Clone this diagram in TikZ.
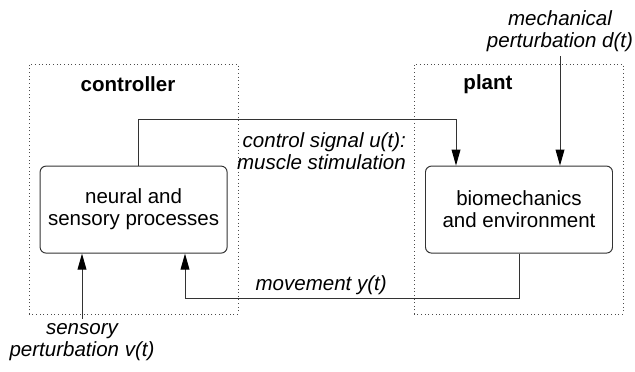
\documentclass[tikz,border=0pt]{standalone}
\usepackage{fontspec}
\setmainfont{Liberation Sans}
\usetikzlibrary{arrows.meta}

\begin{document}
\begin{tikzpicture}[
    every node/.style={font=\fontsize{14.6}{15.6}\selectfont, align=center},
    block/.style={draw=black!80, line width=0.7pt, rounded corners=0.15cm,
                  minimum width=4.675cm, minimum height=2.175cm, inner sep=0pt},
    group/.style={draw=black!70, dotted, line width=0.6pt},
    sig/.style={draw=black!80, line width=0.7pt,
                -{Triangle[length=0.4cm, width=0.22cm, black]}},
    title/.style={font=\fontsize{14.6}{15.6}\selectfont\bfseries},
    sigtext/.style={font=\fontsize{14.6}{15.6}\selectfont\itshape}
]

    % Frame of the whole drawing
    \useasboundingbox (0, 0) rectangle (15.875, 9.3);

    % Dotted groups for controller and plant
    \draw[group] (0.725, 1.45) rectangle (5.95, 7.7);
    \draw[group] (10.35, 1.45) rectangle (15.575, 7.7);
    \node[title] (ctrltitle) at (3.2, 7.2) {controller};
    \node[title] (planttitle) at (12.2, 7.2) {plant};

    % The two blocks
    \node[block] (neural) at (3.34, 4.06) {neural and\\sensory processes};
    \node[block] (plant) at (12.975, 4.06) {biomechanics\\and environment};

    % Outside inputs
    \node[sigtext] (mech) at (14.0, 8.53) {mechanical\\perturbation d(t)};
    \node[sigtext] (sens) at (2.05, 0.74) {sensory\\perturbation v(t)};
    \draw[sig] (mech.south) -- (mech.south |- plant.north);
    \draw[sig] (sens.north) -- (sens.north |- neural.south);

    % Control signal from controller to plant
    \coordinate (uturn) at (3.45, 6.325);
    \coordinate (uin) at (11.4, 6.325);
    \draw[sig] (uturn |- neural.north) -- (uturn) -- (uin) -- (uin |- plant.north);
    \node[sigtext, align=right, anchor=east] (ulabel) at (10.27, 5.525)
        {control signal u(t):\\muscle stimulation};

    % Movement fed back to the controller
    \coordinate (yturn) at (4.625, 1.85);
    \draw[sig] (plant.south) |- (yturn) -- (yturn |- neural.south);
    \node[sigtext] (ylabel) at (8.03, 2.175) {movement y(t)};

\end{tikzpicture}
\end{document}
